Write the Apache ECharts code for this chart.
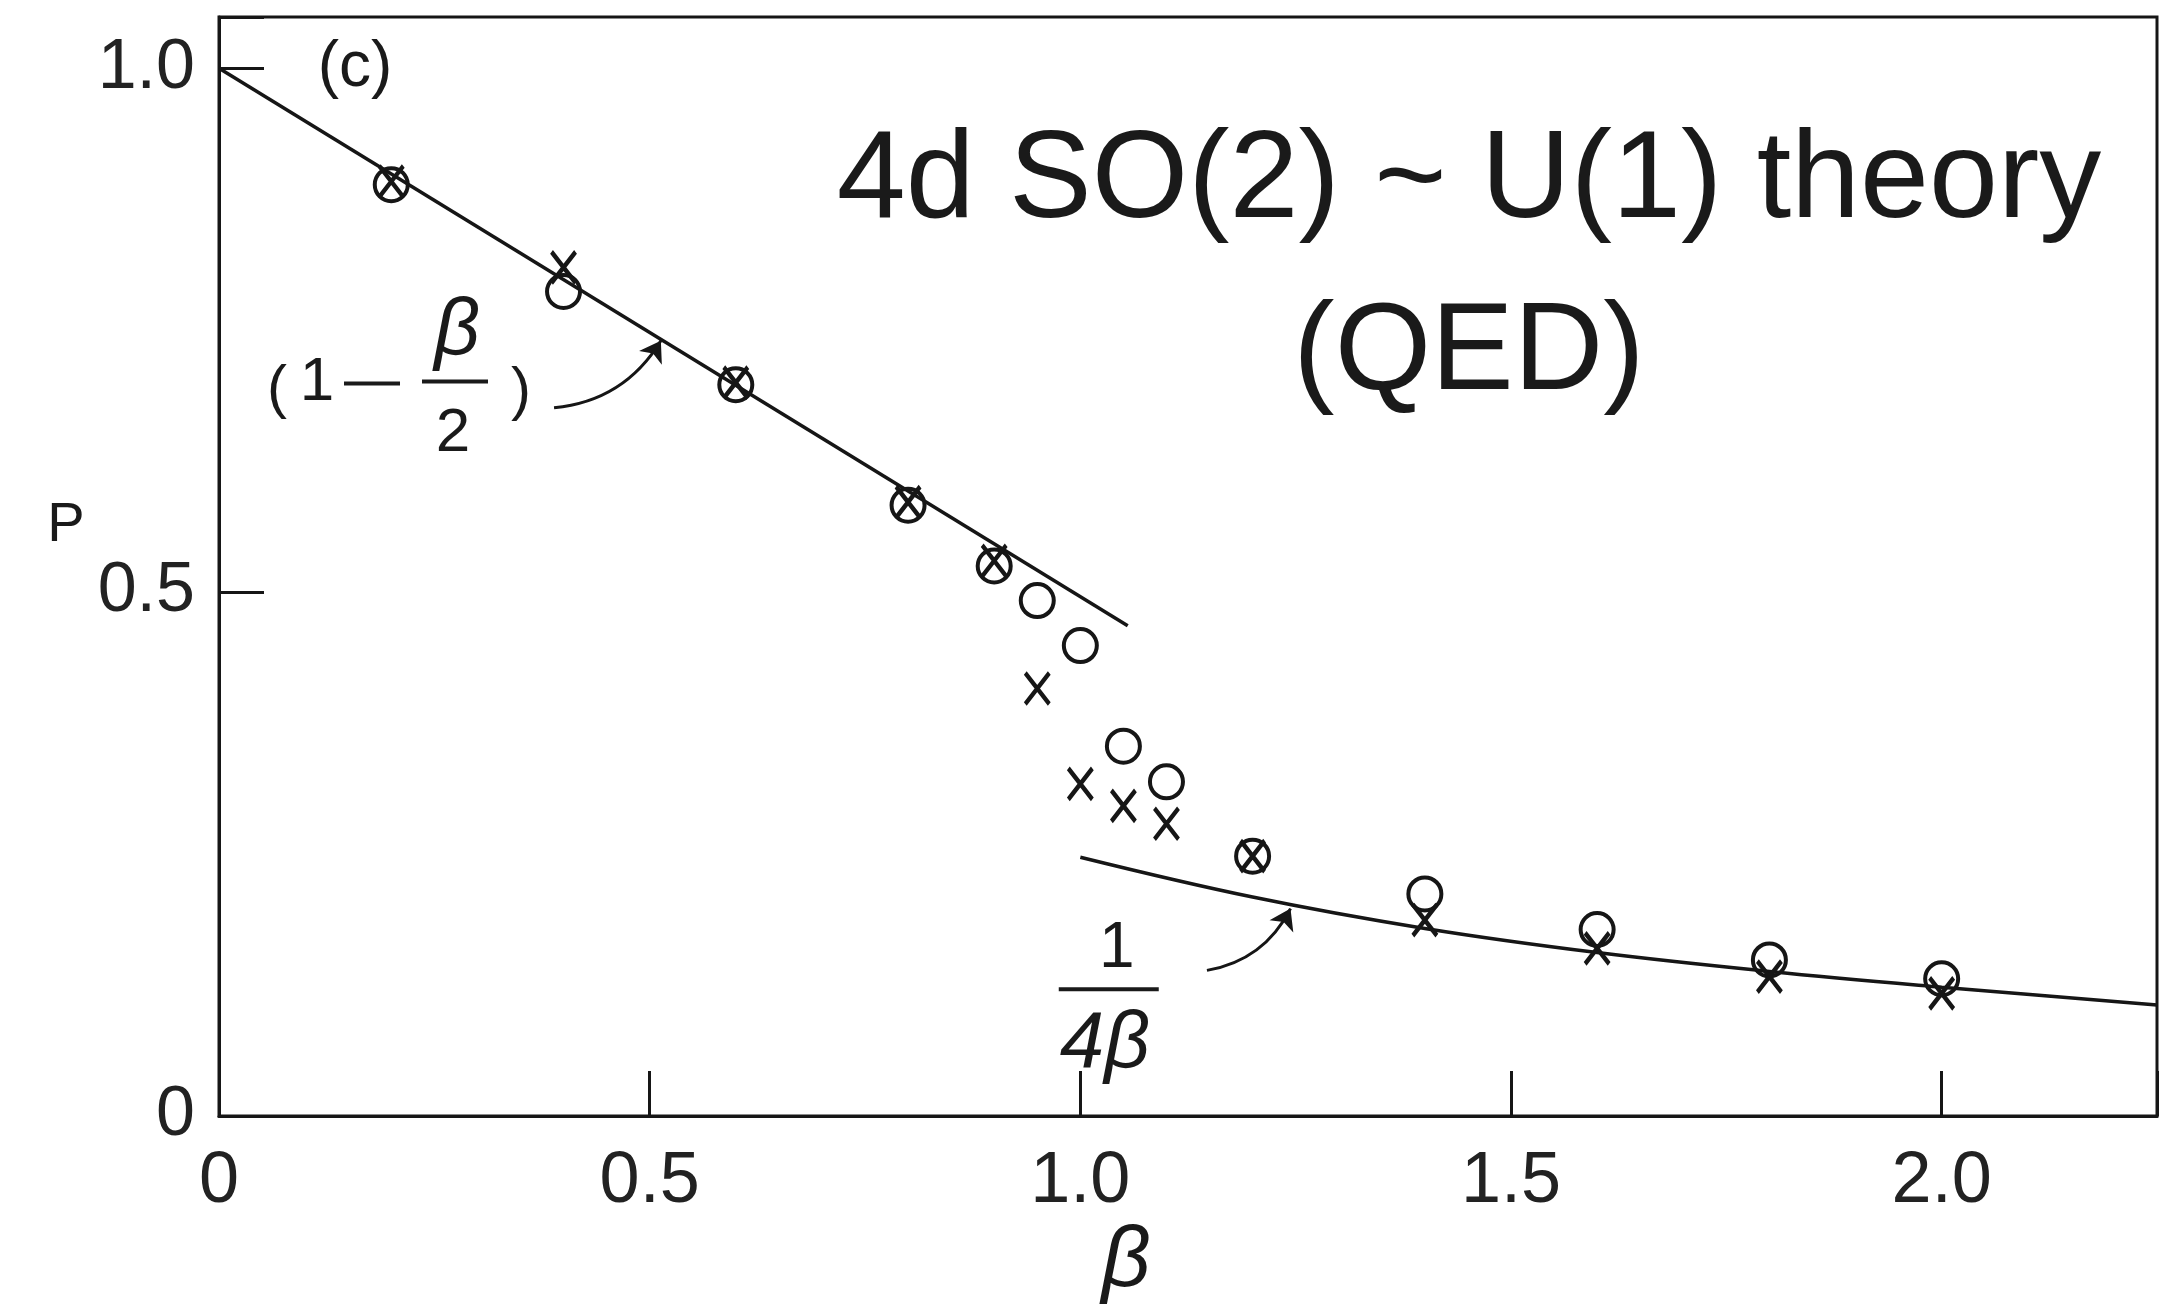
<!DOCTYPE html>
<html><head><meta charset="utf-8">
<script src="https://cdn.jsdelivr.net/npm/echarts@6/dist/echarts.min.js"></script>
<style>html,body{margin:0;padding:0;background:#fff}#c{width:2161px;height:1312px}</style>
</head><body><div id="c"></div>
<script>
// ---- data ----
const betaCircle = [0.2, 0.4, 0.6, 0.8, 0.9, 0.95, 1.0, 1.05, 1.1, 1.2, 1.4, 1.6, 1.8, 2.0];
const pCircle    = [0.889, 0.787, 0.698, 0.583, 0.525, 0.492, 0.449, 0.353, 0.319, 0.248, 0.212, 0.178, 0.149, 0.131];
const betaCross  = [0.2, 0.4, 0.6, 0.8, 0.9, 0.95, 1.0, 1.05, 1.1, 1.2, 1.4, 1.6, 1.8, 2.0];
const pCross     = [0.892, 0.810, 0.700, 0.586, 0.530, 0.408, 0.317, 0.296, 0.279, 0.248, 0.187, 0.160, 0.133, 0.117];
const betaLinear = [0, 1.055];
const pLinear    = [1.0, 0.468];
const betaInverse = [1.0, 1.2, 1.4, 1.6, 1.8, 2.0, 2.25];
const pInverse    = [0.247, 0.209, 0.179, 0.156, 0.138, 0.123, 0.106];
const xTickValues = [0, 0.5, 1, 1.5, 2];
const xTickLabels = ['0', '0.5', '1.0', '1.5', '2.0'];
const yTickValues = [0, 0.5, 1];
const yTickLabels = ['0', '0.5', '1.0'];
const titleLines = ['4d SO(2) ~ U(1) theory', '(QED)'];

const zip = (a, b) => a.map((v, i) => [v, b[i]]);
const lab = (vals, labels) => v => { const i = vals.findIndex(t => Math.abs(t - v) < 1e-9); return i < 0 ? '' : labels[i]; };

const INK = '#161616';
const FONT = '"Liberation Sans", Arial, sans-serif';

const chart = echarts.init(document.getElementById('c'), null, {renderer: 'canvas', width: 2161, height: 1312});
chart.setOption({
  backgroundColor: '#ffffff',
  animation: false,
  grid: {left: 219, top: 17, width: 1938, height: 1099, show: true, borderColor: INK, borderWidth: 3, backgroundColor: '#fff'},
  xAxis: {
    type: 'value', min: 0, max: 2.25, interval: 0.5,
    axisLine: {show: true, lineStyle: {color: INK, width: 3}},
    axisTick: {show: true, inside: true, length: 45, lineStyle: {color: INK, width: 3}},
    axisLabel: {show: true, margin: 30, fontSize: 72, fontFamily: FONT, color: '#222', formatter: lab(xTickValues, xTickLabels)},
    splitLine: {show: false}
  },
  yAxis: {
    type: 'value', min: 0, max: 1.049, interval: 0.5,
    axisLine: {show: true, lineStyle: {color: INK, width: 3}},
    axisTick: {show: true, inside: true, length: 45, lineStyle: {color: INK, width: 3}},
    axisLabel: {show: true, margin: 24, fontSize: 70, fontFamily: FONT, color: '#222', formatter: lab(yTickValues, yTickLabels)},
    splitLine: {show: false}
  },
  series: [
    {type: 'line', data: zip(betaLinear, pLinear), showSymbol: false, symbol: 'none', lineStyle: {color: INK, width: 3.5}, z: 2},
    {type: 'line', data: zip(betaInverse, pInverse), smooth: 0.4, showSymbol: false, symbol: 'none', lineStyle: {color: INK, width: 3.5}, z: 2},
    {type: 'scatter', data: zip(betaCircle, pCircle), symbol: 'circle', symbolSize: 33,
     itemStyle: {color: 'rgba(0,0,0,0)', borderColor: INK, borderWidth: 4, opacity: 1}, z: 3},
    {type: 'scatter', data: zip(betaCross, pCross), symbol: 'path://M0,0L20,26M20,0L0,26', symbolSize: [24, 31],
     itemStyle: {color: 'rgba(0,0,0,0)', borderColor: INK, borderWidth: 4.5, opacity: 1}, z: 3},
    {type: 'lines', coordinateSystem: 'cartesian2d', symbol: ['none', 'arrow'], symbolSize: 20, z: 4,
     lineStyle: {color: INK, width: 3, curveness: -0.25, opacity: 1},
     data: [
       {coords: [[0.389, 0.676], [0.513, 0.740]]},
       {coords: [[1.147, 0.139], [1.244, 0.198]]}
     ]}
  ]
});

// annotations placed from data-coordinate anchors
const px = (b, p) => chart.convertToPixel({xAxisIndex: 0, yAxisIndex: 0}, [b, p]);
const txt = (x, y, text, size, extra) => ({type: 'text', z: 10, style: Object.assign({x: x, y: y, text: text, fontSize: size, fontFamily: FONT, fill: '#1a1a1a', textAlign: 'center', textVerticalAlign: 'middle'}, extra || {})});
const bar = (x, y, w) => ({type: 'rect', z: 10, shape: {x: x - w / 2, y: y - 2, width: w, height: 4}, style: {fill: '#1a1a1a'}});

const g = [];
const c = px(0.158, 1.002);
g.push(txt(c[0], c[1] + 2, '(c)', 64));

const f1 = px(0.274, 0.701);   // fraction bar of (1 - β/2)
g.push(txt(f1[0] - 178, f1[1] + 9, '(', 60));
g.push(txt(f1[0] - 138, f1[1] + 1, '1', 62));
g.push(bar(f1[0] - 83, f1[1] + 2, 56));
g.push(bar(f1[0], f1[1], 66));
g.push(txt(f1[0] + 2, f1[1] - 50, 'β', 80, {fontStyle: 'italic'}));
g.push(txt(f1[0] - 2, f1[1] + 52, '2', 62));
g.push(txt(f1[0] + 66, f1[1] + 11, ')', 60));

const f2 = px(1.033, 0.121);   // fraction bar of 1/(4β)
g.push(bar(f2[0], f2[1], 100));
g.push(txt(f2[0] + 8, f2[1] - 40, '1', 64));
g.push(txt(f2[0] - 4, f2[1] + 56, '4β', 80, {fontStyle: 'italic'}));

// axis names
g.push(txt(66, 526, 'P', 56));
g.push(txt(1126, 1262, 'β', 86, {fontStyle: 'italic'}));

// title
g.push(txt(1469, 183, titleLines[0], 124));
g.push(txt(1469, 355, titleLines[1], 124));

chart.setOption({graphic: g});
</script></body></html>
